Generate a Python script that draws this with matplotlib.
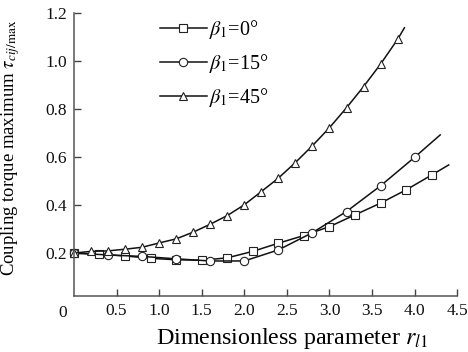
import matplotlib
matplotlib.use("Agg")
import matplotlib.pyplot as plt

plt.rcParams['font.family'] = ['Liberation Serif', 'DejaVu Serif']
plt.rcParams['mathtext.fontset'] = 'stix'

# beta1 = 0 deg
x0 = [0.0, 0.3, 0.6, 0.9, 1.2, 1.5, 1.8, 2.1, 2.4, 2.7, 3.0, 3.3, 3.6, 3.9, 4.2, 4.4]
y0 = [0.199, 0.194, 0.187, 0.177, 0.171, 0.169, 0.179, 0.206, 0.240, 0.272,
      0.309, 0.358, 0.407, 0.462, 0.524, 0.566]
# beta1 = 15 deg
x15 = [0.0, 0.4, 0.8, 1.2, 1.6, 2.0, 2.4, 2.8, 3.2, 3.6, 4.0, 4.3]
y15 = [0.199, 0.191, 0.185, 0.175, 0.166, 0.166, 0.212, 0.284, 0.372, 0.479,
       0.598, 0.691]
# beta1 = 45 deg
x45 = [0.0, 0.2, 0.4, 0.6, 0.8, 1.0, 1.2, 1.4, 1.6, 1.8, 2.0, 2.2, 2.4, 2.6,
       2.8, 3.0, 3.2, 3.4, 3.6, 3.8, 3.88]
y45 = [0.199, 0.206, 0.208, 0.215, 0.223, 0.241, 0.258, 0.286, 0.319, 0.355,
       0.400, 0.455, 0.511, 0.576, 0.646, 0.721, 0.804, 0.892, 0.986, 1.089,
       1.137]

labels = [r'$\beta_1$=0°', r'$\beta_1$=15°', r'$\beta_1$=45°']
markers = ['s', 'o', '^']
xticks = [0.5, 1.0, 1.5, 2.0, 2.5, 3.0, 3.5, 4.0, 4.5]
yticks = [0.2, 0.4, 0.6, 0.8, 1.0, 1.2]

fig = plt.figure(figsize=(4.68, 3.52), dpi=100)
ax = fig.add_axes([0.158, 0.159, 0.819, 0.805])

for xs, ys, m, lab in zip([x0, x15, x45], [y0, y15, y45], markers, labels):
    ax.plot(xs, ys, color='#111111', lw=1.1, marker=m, ms=6 if m != 's' else 5.5,
            mfc='white', mec='#222222', mew=0.8,
            markevery=list(range(len(xs) - 1)), label=lab, clip_on=False)

ax.set_xlim(0, 4.5)
ax.set_ylim(0.02, 1.2)
ax.set_xticks(xticks)
ax.set_xticklabels([f'{t:.1f}' for t in xticks])
ax.set_yticks(yticks)
ax.set_yticklabels([f'{t:.1f}' for t in yticks])
ax.tick_params(direction='in', length=5, width=1, colors='#444444',
               labelcolor='#111111', labelsize=12.5, pad=5)
for s in ['top', 'right']:
    ax.spines[s].set_visible(False)
for s in ['left', 'bottom']:
    ax.spines[s].set_color('#555555')
    ax.spines[s].set_linewidth(1.1)

# shared origin label
fig.text(63 / 468, 1 - 313 / 352, '0', ha='center', va='center',
         fontsize=12.5, color='#111111')

ax.set_xlabel(r'Dimensionless parameter $r_{l1}$', fontsize=17.3)
ax.xaxis.label.set_va('baseline')
ax.xaxis.set_label_coords(0.569, -0.17)
ax.set_ylabel(r'Coupling torque maximum $\tau_{cij/\mathrm{max}}$', fontsize=13.5)
ax.yaxis.set_label_coords(-0.135, 0.525)

leg = ax.legend(loc='upper left', bbox_to_anchor=(0.225, 0.982), frameon=False,
                fontsize=14.5, handlelength=2.3, handletextpad=0.1,
                labelspacing=0.55, borderaxespad=0, borderpad=0)

fig.savefig('out.png', dpi=100)
